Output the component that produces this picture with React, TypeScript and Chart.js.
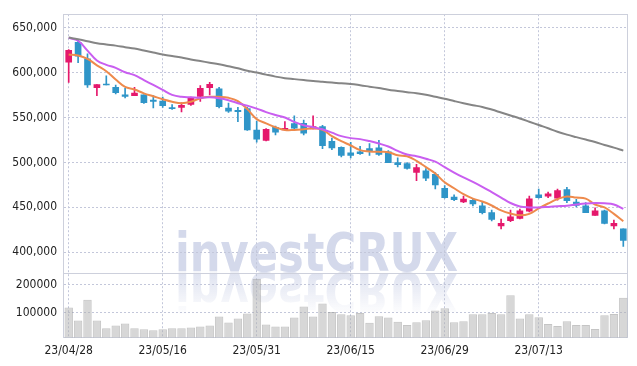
import React, { useEffect, useRef } from 'react';
import { Chart, registerables } from 'chart.js';

Chart.register(...registerables);

const dates = [
  '23/04/28', '23/05/02', '23/05/03', '23/05/04', '23/05/08', '23/05/09', '23/05/10', '23/05/11', '23/05/12', '23/05/15',
  '23/05/16', '23/05/17', '23/05/18', '23/05/19', '23/05/22', '23/05/23', '23/05/24', '23/05/25', '23/05/26', '23/05/30',
  '23/05/31', '23/06/01', '23/06/02', '23/06/05', '23/06/07', '23/06/08', '23/06/09', '23/06/12', '23/06/13', '23/06/14',
  '23/06/15', '23/06/16', '23/06/19', '23/06/20', '23/06/21', '23/06/22', '23/06/23', '23/06/26', '23/06/27', '23/06/28',
  '23/06/29', '23/06/30', '23/07/03', '23/07/04', '23/07/05', '23/07/06', '23/07/07', '23/07/10', '23/07/11', '23/07/12',
  '23/07/13', '23/07/14', '23/07/17', '23/07/18', '23/07/19', '23/07/20', '23/07/21', '23/07/24', '23/07/25', '23/07/26',
];

const opens = [
  611700, 633600, 615400, 583200, 587300, 583600, 575200, 574400, 575200, 569400,
  568300, 561000, 561300, 564600, 573400, 583200, 581800, 560600, 558000, 559900,
  536100, 524500, 539100, 536100, 543100, 543500, 537200, 539800, 523400, 516800,
  510600, 511700, 515300, 516100, 511700, 499700, 498600, 488700, 490600, 486600,
  471200, 461300, 455900, 457700, 451500, 444100, 429200, 435100, 437600, 445700,
  463900, 462400, 460200, 469800, 455900, 451500, 440900, 446000, 429200, 426000,
];
const highs = [
  625600, 635800, 620900, 586500, 596300, 586200, 582500, 583600, 575200, 574400,
  572700, 564300, 566500, 572700, 585400, 589100, 583600, 566100, 561300, 561700,
  546000, 537600, 540500, 545300, 551900, 547100, 551900, 541300, 527100, 517200,
  522300, 517900, 520800, 524500, 513100, 505100, 499700, 497800, 493100, 488700,
  474100, 463900, 462400, 458800, 456600, 446800, 437000, 446800, 447900, 462400,
  470400, 466800, 470400, 472300, 458800, 455100, 449300, 446800, 435800, 426000,
];
const lows = [
  589100, 611000, 583600, 574400, 586200, 576300, 571900, 574400, 565700, 560600,
  561300, 559100, 556300, 563500, 567900, 575200, 560600, 555500, 545300, 535500,
  522600, 523800, 530600, 536100, 537200, 530600, 537200, 515300, 514200, 506200,
  505100, 508800, 507700, 507700, 499700, 494900, 492300, 479600, 479600, 470400,
  460200, 457300, 455100, 451500, 442700, 434700, 426000, 434000, 437000, 444900,
  460200, 460600, 458000, 455100, 450400, 444100, 440900, 431400, 426000, 406300,
];
const closes = [
  624800, 618200, 586200, 586500, 586200, 577700, 573400, 577100, 566500, 567900,
  563200, 559900, 563500, 571600, 582500, 586900, 562100, 556900, 556600, 536100,
  525900, 536900, 533600, 538000, 538000, 532500, 539800, 518600, 516100, 507700,
  507700, 509800, 512500, 508800, 499700, 497500, 493400, 494200, 482500, 474800,
  460600, 458400, 459100, 453700, 444100, 436500, 432100, 439400, 446000, 459500,
  460600, 465000, 468700, 457300, 452200, 444100, 446000, 432100, 432100, 413200,
];

const volumes = [
  117900, 71400, 146400, 71400, 42900, 53600, 60700, 42900, 39300, 35700,
  39300, 42900, 42900, 46400, 50000, 53600, 85700, 64300, 78600, 96400,
  221400, 57100, 50000, 50000, 82100, 121400, 85700, 132100, 102200, 93900,
  90400, 98600, 62900, 86800, 82100, 66400, 54700, 65400, 72500, 107100,
  115400, 65400, 68900, 93900, 93900, 98600, 93900, 161800, 78600, 93900,
  82900, 58200, 51100, 68900, 54700, 54700, 40400, 90400, 95000, 153600,
];

const maShort = [
  620100, 619000, 615200, 608100, 601500, 592200, 584000, 581200, 576900, 573600,
  570300, 567500, 565900, 567500, 571400, 573000, 573000, 571900, 568100, 559300,
  548200, 543500, 539100, 536100, 536100, 536900, 538000, 536300, 529200, 523700,
  518800, 513600, 512200, 511700, 511400, 507900, 506800, 501800, 494700, 487600,
  477800, 471200, 464600, 459700, 456400, 452000, 446500, 443000, 441100, 442700,
  448700, 454200, 459100, 462100, 460800, 459700, 453100, 449800, 442700, 434500,
];
const maMid = [
  638700, 635400, 624500, 613500, 608600, 605300, 600400, 597100, 591600, 586200,
  580700, 575200, 573000, 572500, 571900, 572500, 571400, 569200, 565900, 563200,
  559900, 556000, 552800, 550000, 545100, 541300, 539100, 536900, 533100, 529200,
  527000, 525900, 523700, 521000, 517700, 512800, 508700, 506800, 504000, 500800,
  494700, 488700, 483200, 478300, 472800, 466800, 460800, 454800, 450900, 449800,
  449800, 450400, 451100, 451800, 453100, 454200, 454800, 454400, 453100, 448200,
];
const maLong = [
  639000, 637100, 634900, 632700, 631300, 630000, 628300, 626700, 624500, 622300,
  620100, 618500, 616800, 614600, 612800, 611000, 609200, 607000, 604800, 602000,
  600100, 597700, 595500, 593800, 592700, 591600, 590500, 589700, 588900, 588000,
  587300, 585900, 584300, 582700, 581000, 579600, 578200, 576900, 575200, 573000,
  570800, 568300, 565900, 563700, 561700, 558800, 555500, 552200, 548900, 545300,
  541600, 538000, 534100, 530900, 528100, 525400, 522700, 519400, 516400, 513100,
];

const priceTicks = [400000, 450000, 500000, 550000, 600000, 650000];
const volumeTicks = [100000, 200000];
const labelEvery = 10;

const UP = '#e5186c';
const DOWN = '#2f95c8';
const GRID = '#c3c7da';
const FRAME = '#cdd0dc';
const TICK_FONT = { family: '"DejaVu Sans Condensed", "DejaVu Sans", sans-serif', size: 12 };

const watermarkPlugin = {
  id: 'watermark',
  beforeDraw(chart: any) {
    const ctx = chart.ctx as CanvasRenderingContext2D;
    const text = 'investCRUX';
    ctx.save();
    ctx.font = 'bold 54px "DejaVu Sans", sans-serif';
    const w = ctx.measureText(text).width;
    const sx = 283 / w;
    ctx.translate(175, 271);
    ctx.scale(sx, 1);
    ctx.fillStyle = 'rgb(212,217,235)';
    ctx.fillText(text, 0, 0);
    ctx.restore();

    ctx.save();
    ctx.font = 'bold 54px "DejaVu Sans", sans-serif';
    ctx.translate(175, 273);
    ctx.scale(sx, -1);
    const g = ctx.createLinearGradient(0, 0, 0, -40);
    g.addColorStop(0, 'rgba(212,217,235,0.75)');
    g.addColorStop(1, 'rgba(212,217,235,0.05)');
    ctx.fillStyle = g;
    ctx.fillText(text, 0, 0);
    ctx.restore();
  },
};

const framePlugin = {
  id: 'frame',
  beforeDatasetsDraw(chart: any) {
    const ctx = chart.ctx as CanvasRenderingContext2D;
    const a = chart.chartArea;
    const y2 = chart.scales.y2;
    ctx.save();
    ctx.strokeStyle = FRAME;
    ctx.lineWidth = 1;
    ctx.strokeRect(Math.round(a.left) - 0.5, Math.round(a.top) + 0.5, Math.round(a.right - a.left), Math.round(a.bottom - a.top));
    ctx.beginPath();
    ctx.moveTo(a.left, Math.round(y2.top) + 0.5);
    ctx.lineTo(a.right, Math.round(y2.top) + 0.5);
    ctx.stroke();
    ctx.restore();
  },
};

export default function App() {
  const ref = useRef<HTMLCanvasElement | null>(null);

  useEffect(() => {
    if (!ref.current) return;
    const colors = opens.map((o, i) => (closes[i] >= o ? UP : DOWN));
    const chart = new Chart(ref.current, {
      type: 'bar',
      data: {
        labels: dates,
        datasets: [
          {
            type: 'line',
            label: 'MA long',
            data: maLong,
            yAxisID: 'y',
            borderColor: '#858585',
            borderWidth: 2,
            pointRadius: 0,
            tension: 0.4,
            order: 0,
          } as any,
          {
            type: 'line',
            label: 'MA mid',
            data: maMid,
            yAxisID: 'y',
            borderColor: '#c95ef0',
            borderWidth: 2,
            pointRadius: 0,
            tension: 0.4,
            order: 0,
          } as any,
          {
            type: 'line',
            label: 'MA short',
            data: maShort,
            yAxisID: 'y',
            borderColor: '#ee8a4c',
            borderWidth: 2,
            pointRadius: 0,
            tension: 0.4,
            order: 0,
          } as any,
          {
            type: 'bar',
            label: 'wick',
            data: lows.map((l, i) => [l, highs[i]]),
            yAxisID: 'y',
            backgroundColor: colors,
            barThickness: 1,
            grouped: false,
            order: 2,
          } as any,
          {
            type: 'bar',
            label: 'body',
            data: opens.map((o, i) => [o, closes[i]]),
            yAxisID: 'y',
            backgroundColor: colors,
            barThickness: 6,
            grouped: false,
            order: 1,
          } as any,
          {
            type: 'bar',
            label: 'volume',
            data: volumes,
            yAxisID: 'y2',
            backgroundColor: 'rgba(175,175,175,0.5)',
            borderColor: 'rgba(150,150,150,0.55)',
            borderWidth: 1,
            barPercentage: 1,
            categoryPercentage: 0.9,
            grouped: false,
            order: 3,
          } as any,
        ],
      },
      options: {
        responsive: false,
        animation: false,
        events: [],
        layout: { padding: { top: 9, right: 9, left: 0, bottom: 0 } },
        plugins: {
          legend: { display: false },
          tooltip: { enabled: false },
        },
        scales: {
          x: {
            type: 'category',
            offset: true,
            grid: {
              offset: false,
              drawTicks: false,
              color: (c: any) => (c.index % labelEvery === 0 ? GRID : 'rgba(0,0,0,0)'),
            },
            border: { display: false, dash: [2, 2] },
            ticks: {
              autoSkip: false,
              maxRotation: 0,
              minRotation: 0,
              padding: 6,
              color: '#222',
              font: TICK_FONT,
              callback: (_v: any, i: number) => (i % labelEvery === 0 ? dates[i] : ''),
            },
            afterFit: (s: any) => {
              s.height = 28.5;
            },
          },
          y2: {
            type: 'linear',
            position: 'left',
            stack: 'panels',
            stackWeight: 1,
            min: 10000,
            max: 243000,
            grid: { drawTicks: false, color: GRID },
            border: { display: false, dash: [2, 2] },
            afterBuildTicks: (s: any) => {
              s.ticks = volumeTicks.map((v) => ({ value: v }));
            },
            ticks: {
              padding: 7,
              color: '#222',
              font: TICK_FONT,
              callback: (v: any) => String(v),
            },
            afterFit: (s: any) => {
              s.width = 64;
            },
          },
          y: {
            type: 'linear',
            position: 'left',
            stack: 'panels',
            stackWeight: 4,
            min: 377000,
            max: 665000,
            grid: { drawTicks: false, color: GRID },
            border: { display: false, dash: [2, 2] },
            afterBuildTicks: (s: any) => {
              s.ticks = priceTicks.map((v) => ({ value: v }));
            },
            ticks: {
              padding: 7,
              color: '#222',
              font: TICK_FONT,
              callback: (v: any) => Number(v).toLocaleString('en-US'),
            },
            afterFit: (s: any) => {
              s.width = 64;
            },
          },
        },
      } as any,
      plugins: [watermarkPlugin, framePlugin],
    });
    return () => chart.destroy();
  }, []);

  return (
    <div style={{ position: 'fixed', left: 0, top: 0, width: 637, height: 366, background: '#fff' }}>
      <canvas ref={ref} width={637} height={366} style={{ display: 'block', width: 637, height: 366 }} />
    </div>
  );
}
